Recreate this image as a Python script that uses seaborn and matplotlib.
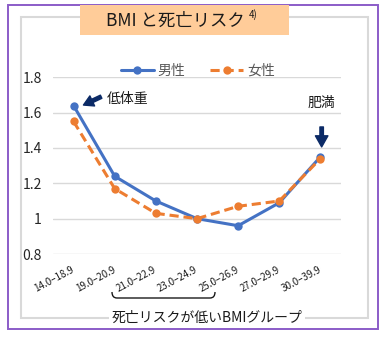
import numpy as np
import pandas as pd
import matplotlib
matplotlib.use("Agg")
import matplotlib.pyplot as plt
from matplotlib.patches import Rectangle, PathPatch
from matplotlib.path import Path
import seaborn as sns

# ---- data ----
categories = ["14.0–18.9", "19.0–20.9", "21.0–22.9", "23.0–24.9",
              "25.0–26.9", "27.0–29.9", "30.0–39.9"]
male = [1.64, 1.24, 1.10, 1.00, 0.96, 1.09, 1.35]
female = [1.55, 1.17, 1.03, 1.00, 1.07, 1.10, 1.34]
series_names = ["男性", "女性"]
yticks = [0.8, 1.0, 1.2, 1.4, 1.6, 1.8]
ytick_labels = ["0.8", "1", "1.2", "1.4", "1.6", "1.8"]
title = "BMI と死亡リスク"
title_sup = "4)"
note_low = "低体重"
note_high = "肥満"
bottom_label = "死亡リスクが低いBMIグループ"

sns.set_theme(style="white")
plt.rcParams["font.family"] = ["Noto Sans CJK JP", "DejaVu Sans"]

W, H = 384, 338
fig = plt.figure(figsize=(W / 100, H / 100), dpi=100)
fig.patch.set_facecolor("white")


def fx(x):
    return x / W


def fy(y):
    return 1 - y / H


def rect(x0, y0, x1, y1, **kw):
    r = Rectangle((fx(x0), fy(y1)), fx(x1) - fx(x0), fy(y0) - fy(y1),
                  transform=fig.transFigure, **kw)
    fig.patches.append(r)


# outer purple frame and inner grey frame
rect(7.5, 4.5, 377.5, 329, fill=False, edgecolor="#8B5CC8", linewidth=1.4)
rect(21, 17, 367.5, 318, fill=False, edgecolor="#D9D9D9", linewidth=1.5)
# title box
rect(80, 5, 289, 35, facecolor="#FFCC99", edgecolor="none")
fig.text(fx(175), fy(21), title, fontsize=12.5, ha="center", va="center",
         color="#1a1a1a")
fig.text(fx(249), fy(15), title_sup, fontsize=7, ha="left", va="center",
         color="#1a1a1a")

# axes
ax_l, ax_r, ax_t, ax_b = 53, 341, 77.3, 254
ax = fig.add_axes([fx(ax_l), fy(ax_b), fx(ax_r) - fx(ax_l), fy(ax_t) - fy(ax_b)])
ax.set_facecolor("none")

df = pd.DataFrame({
    "cat": categories * 2,
    "x": list(range(len(categories))) * 2,
    "val": male + female,
    "sex": [series_names[0]] * len(categories) + [series_names[1]] * len(categories),
})
colors = {series_names[0]: "#4472C4", series_names[1]: "#ED7D31"}
sns.lineplot(data=df, x="x", y="val", hue="sex", style="sex",
             hue_order=series_names, style_order=series_names,
             palette=colors,
             dashes={series_names[0]: "", series_names[1]: (3, 1.6)},
             markers={series_names[0]: "o", series_names[1]: "o"},
             markersize=6, markeredgewidth=0, linewidth=2.2,
             sort=False, ax=ax)

ax.set_xlim(-0.5, len(categories) - 0.5)
ax.set_ylim(0.8, 1.8)
ax.set_yticks(yticks)
ax.set_yticklabels(ytick_labels, fontsize=10, color="#262626")
ax.set_xticks(range(len(categories)))
ax.set_xticklabels(categories, fontsize=7, rotation=28, ha="right",
                   va="center", rotation_mode="anchor", color="#1a1a1a")
ax.tick_params(axis="y", length=0, pad=8)
ax.tick_params(axis="x", length=0, pad=11)
ax.grid(axis="y", color="#D9D9D9", linewidth=1)
ax.grid(axis="x", visible=False)
for s in ax.spines.values():
    s.set_visible(False)
ax.set_xlabel("")
ax.set_ylabel("")

handles, labels = ax.get_legend_handles_labels()
ax.legend(handles, labels, loc="center", bbox_to_anchor=(0.502, 1.036),
          ncol=2, frameon=False, fontsize=10, handlelength=2.4,
          handletextpad=0.25, columnspacing=1.8, labelcolor="#595959",
          borderpad=0, borderaxespad=0)

# annotations
navy = "#0B2A66"
ax.text(0.8, 1.675, note_low, fontsize=10, ha="left", va="center", color="#1a1a1a")
ax.annotate("", xy=(0.24, 1.643), xytext=(0.67, 1.69),
            arrowprops=dict(facecolor=navy, edgecolor=navy, width=2.5,
                            headwidth=8, headlength=7, shrink=0))
ax.text(6.03, 1.655, note_high, fontsize=10, ha="center", va="center", color="#1a1a1a")
ax.annotate("", xy=(6.03, 1.406), xytext=(6.03, 1.519),
            arrowprops=dict(facecolor=navy, edgecolor=navy, width=2.5,
                            headwidth=9, headlength=8, shrink=0))

# bracket under low-risk groups
bx0, bx1, by, btop = 112, 215, 298, 292
verts = [(fx(bx0), fy(btop)), (fx(bx0), fy(by)), (fx(bx0 + 5), fy(by)),
         (fx(bx1 - 5), fy(by)),
         (fx(bx1), fy(by)), (fx(bx1), fy(btop))]
codes = [Path.MOVETO, Path.CURVE3, Path.CURVE3, Path.LINETO, Path.CURVE3, Path.CURVE3]
fig.patches.append(PathPatch(Path(verts, codes), transform=fig.transFigure,
                             fill=False, edgecolor="#1a1a1a", linewidth=1))

fig.text(fx(207), fy(318), bottom_label, fontsize=10, ha="center", va="center",
         color="#1a1a1a",
         bbox=dict(facecolor="white", edgecolor="none", pad=2))

fig.savefig("out.png", dpi=100)
